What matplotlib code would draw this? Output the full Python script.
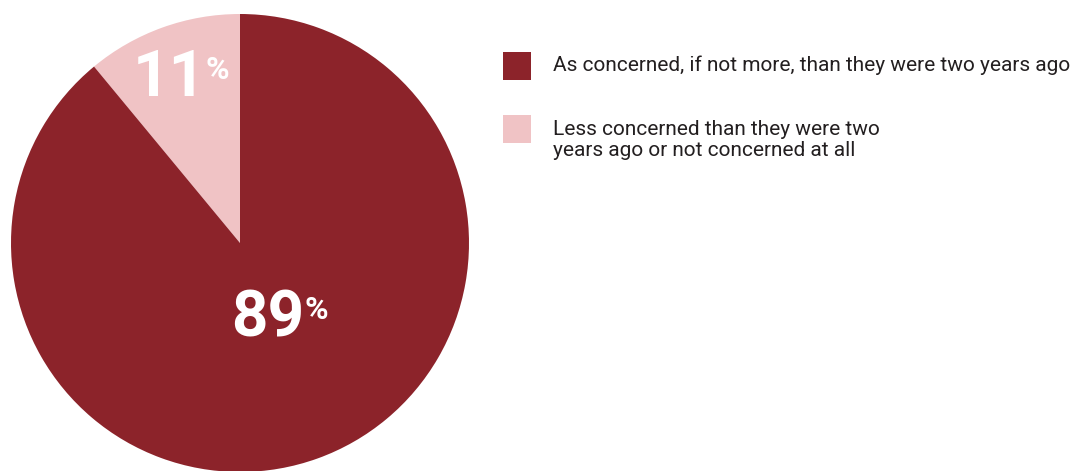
import matplotlib.pyplot as plt
from matplotlib.patches import Rectangle

labels = ['Less concerned than they were two\nyears ago or not concerned at all',
          'As concerned, if not more, than they were two years ago']
values = [11, 89]
colors = ['#F0C3C5', '#8C232A']

W, H = 1078, 471
fig = plt.figure(figsize=(W / 100, H / 100), dpi=100)
plt.rcParams['font.family'] = ['Roboto', 'DejaVu Sans']

# pie axes placed in pixel terms: centre (240, 243), radius 229
cx, cy, r = 240, 243, 229
ax = fig.add_axes([(cx - r) / W, (H - cy - r) / H, 2 * r / W, 2 * r / H])
ax.pie(values, colors=colors, startangle=90, counterclock=True,
       wedgeprops=dict(linewidth=0))
ax.set_xlim(-1, 1)
ax.set_ylim(-1, 1)
ax.set_aspect('equal')
ax.axis('off')

# percentage labels (number + small superscript %)
label_pos = [(-0.31, 0.72), (0.12, -0.33)]
for v, (x, y) in zip(values, label_pos):
    t = ax.text(x, y, str(v), color='white', fontsize=46, fontweight='bold',
                ha='center', va='center')
    ax.annotate('%', xy=(1, 1), xycoords=t, xytext=(0, -5),
                textcoords='offset points', color='white', fontsize=23,
                fontweight='bold', ha='left', va='top')

# legend
sq = 28
items = [(1, 52, 65), (0, 115, 130)]
for i, top, ty in items:
    fig.patches.append(Rectangle((503 / W, (H - top - sq) / H), sq / W, sq / H,
                                 transform=fig.transFigure, facecolor=colors[i],
                                 edgecolor='none'))
    fig.text(553 / W, 1 - (ty - 10) / H, labels[i], fontsize=15, color='#231F20',
             ha='left', va='top', linespacing=1.1)

fig.savefig('out.png', dpi=100)
